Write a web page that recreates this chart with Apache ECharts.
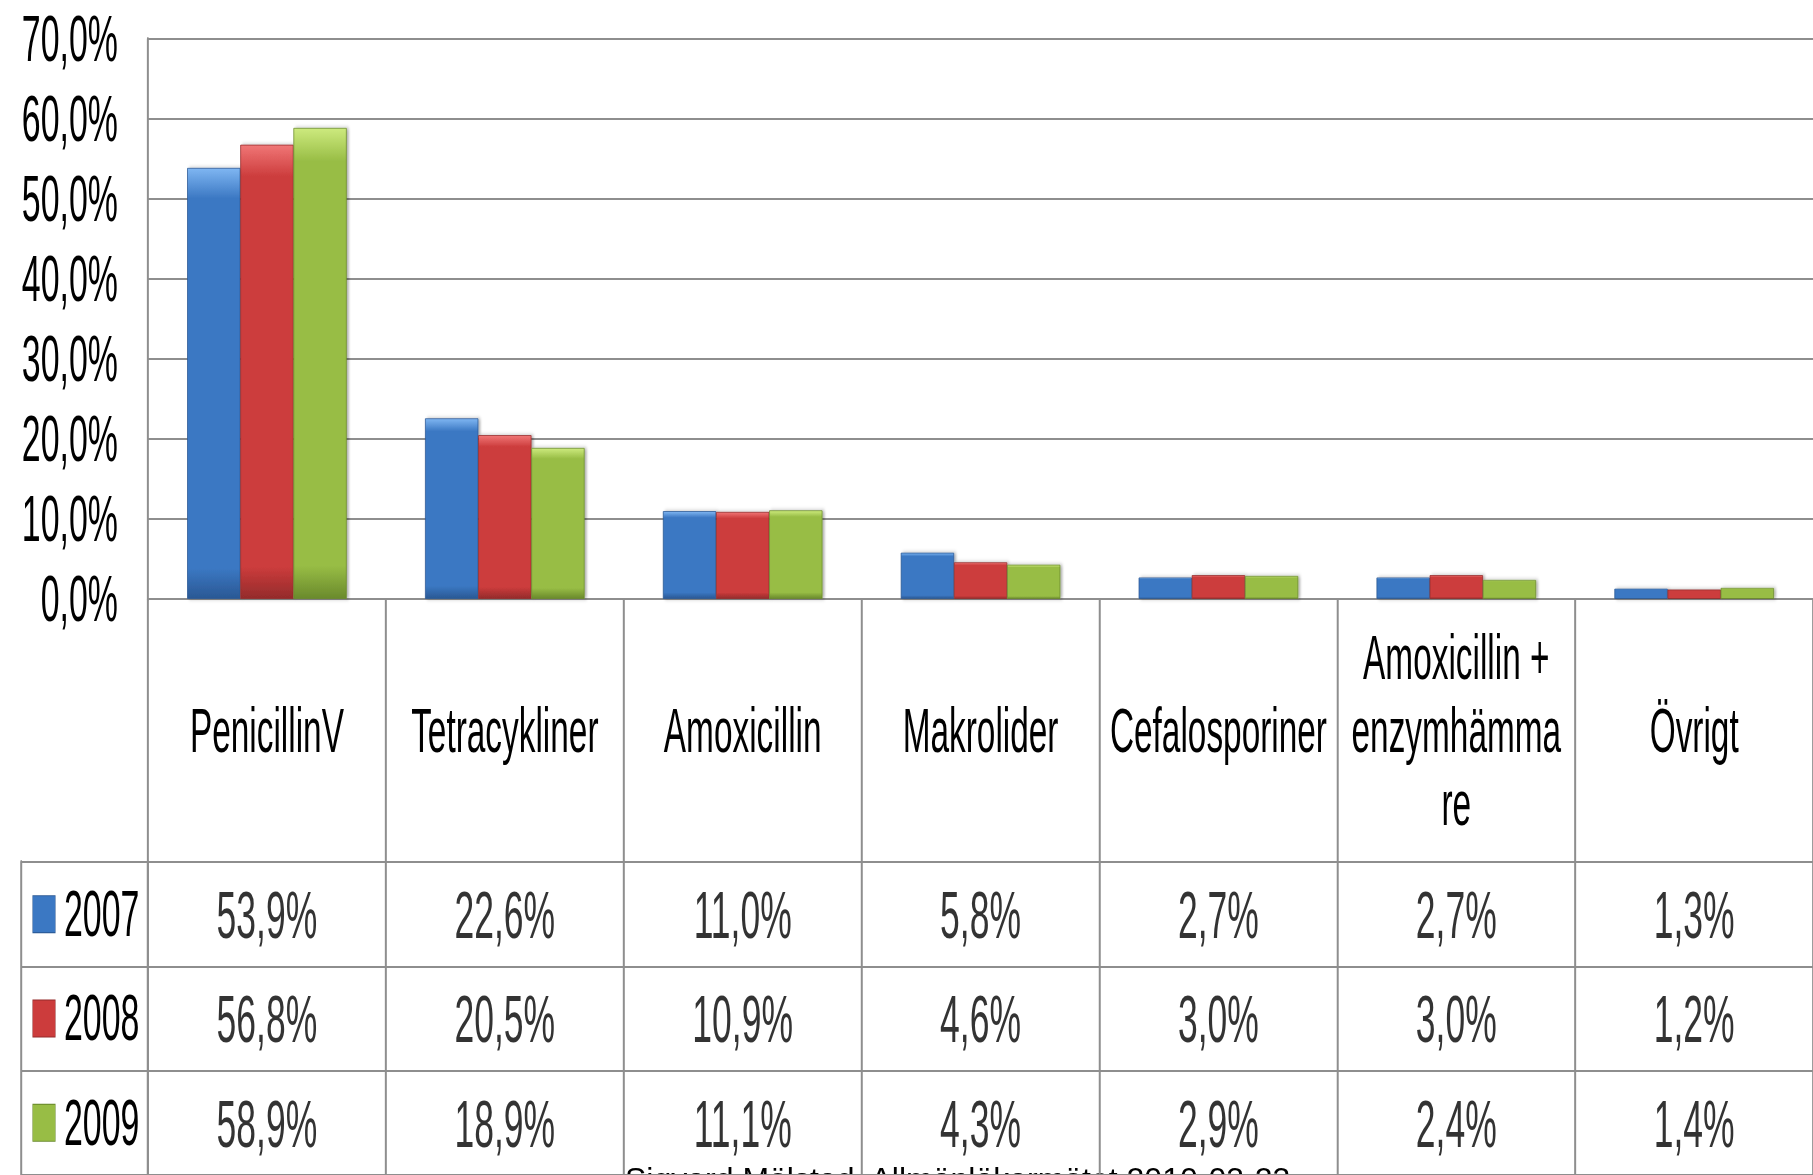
<!DOCTYPE html>
<html>
<head>
<meta charset="utf-8">
<title>Antibiotika 2007-2009</title>
<script src="https://cdn.jsdelivr.net/npm/echarts@6/dist/echarts.min.js"></script>
<style>
  html, body { margin: 0; padding: 0; background: #fff; overflow: hidden; width: 1813px; height: 1175px; }
  /* the original text is tall and narrow, so the whole chart is squeezed sideways */
  #chart { height: 1175px; transform-origin: 0 0; }
</style>
</head>
<body>
<div id="chart"></div>
<script>
// data
const categories = ['PenicillinV', 'Tetracykliner', 'Amoxicillin', 'Makrolider', 'Cefalosporiner', 'Amoxicillin +\nenzymhämma\nre', 'Övrigt'];
const years = ['2007', '2008', '2009'];
const values2007 = [53.9, 22.6, 11.0, 5.8, 2.7, 2.7, 1.3];
const values2008 = [56.8, 20.5, 10.9, 4.6, 3.0, 3.0, 1.2];
const values2009 = [58.9, 18.9, 11.1, 4.3, 2.9, 2.4, 1.4];
const yMin = 0;
const yMax = 70;
const yStep = 10;
const footer = 'Sigvard Mölstad, Allmänläkarmötet 2010-03-23';

// horizontal squeeze
const K = 0.53;
const sx = v => v / K;

const el = document.getElementById('chart');
el.style.width = sx(1813) + 'px';
el.style.transform = 'scaleX(' + K + ')';

// looks
const FONT = "'Liberation Sans', Arial, sans-serif";
const LINE = '#8e8e8e';
const hLine = { color: LINE, width: 2 };
const vLine = { color: LINE, width: sx(2) };
const yearColors = [
  { light: '#7fb6f2', main: '#3b78c3', dark: '#2a5894' },
  { light: '#f07676', main: '#cc3c3c', dark: '#942b2b' },
  { light: '#cdea7e', main: '#98bd45', dark: '#6a8a2c' }
];

const pct = v => v.toFixed(1).replace('.', ',') + '%';

const barFill = c => ({
  type: 'linear', x: 0, y: 0, x2: 0, y2: 1,
  colorStops: [
    { offset: 0, color: c.light },
    { offset: 0.07, color: c.main },
    { offset: 0.93, color: c.main },
    { offset: 1, color: c.dark }
  ]
});

const yearValues = [values2007, values2008, values2009];

// cells of the data table under the plot
const tableCells = [];
yearValues.forEach((vals, row) => {
  vals.forEach((v, col) => tableCells.push([col, row, v]));
});

const rich = { t: { fontSize: 64, fontFamily: FONT, color: '#000', padding: [0, 0, 0, sx(9)] } };
yearColors.forEach((c, i) => {
  rich['i' + i] = { width: sx(22), height: 36, backgroundColor: c.main, borderColor: c.dark, borderWidth: 1 };
});

const chart = echarts.init(el, null, { renderer: 'svg' });

chart.setOption({
  animation: false,
  backgroundColor: '#fff',
  grid: [
    { left: sx(148), top: 39, width: sx(1675), height: 560 },
    { left: sx(148), top: 862, width: sx(1675), height: 315 }
  ],
  xAxis: [
    {
      type: 'category',
      gridIndex: 0,
      data: categories,
      axisLine: { lineStyle: hLine },
      axisTick: { show: true, length: 263, lineStyle: vLine },
      axisLabel: {
        interval: 0, margin: 131, verticalAlign: 'middle',
        fontSize: 63, lineHeight: 73, fontFamily: FONT, color: '#000'
      }
    },
    {
      type: 'category',
      gridIndex: 1,
      position: 'top',
      data: categories,
      axisLine: { lineStyle: hLine },
      axisTick: { show: false },
      axisLabel: { show: false },
      splitLine: { show: true, lineStyle: vLine }
    }
  ],
  yAxis: [
    {
      type: 'value',
      gridIndex: 0,
      min: yMin, max: yMax, interval: yStep,
      axisLine: { show: true, lineStyle: vLine },
      axisTick: { show: false },
      splitLine: { lineStyle: hLine },
      axisLabel: { formatter: pct, fontSize: 64, fontFamily: FONT, color: '#000', margin: sx(30) }
    },
    {
      type: 'category',
      gridIndex: 1,
      inverse: true,
      data: years,
      axisLine: { show: true, lineStyle: vLine },
      axisTick: { show: true, length: sx(127), lineStyle: hLine },
      splitLine: { show: true, lineStyle: hLine },
      axisLabel: {
        align: 'left', margin: sx(115),
        formatter: (val, idx) => '{i' + idx + '|}{t|' + val + '}',
        rich: rich
      }
    },
    {
      // left border of the legend column
      type: 'category',
      gridIndex: 1,
      data: years,
      position: 'left',
      offset: sx(127),
      axisLine: { show: true, lineStyle: vLine },
      axisTick: { show: false },
      axisLabel: { show: false }
    }
  ],
  series: yearValues.map((vals, i) => ({
    name: years[i],
    type: 'bar',
    xAxisIndex: 0,
    yAxisIndex: 0,
    barGap: '0%',
    barCategoryGap: '33%',
    data: vals,
    itemStyle: {
      color: barFill(yearColors[i]),
      borderColor: yearColors[i].dark,
      borderWidth: 1,
      shadowColor: 'rgba(0,0,0,0.3)',
      shadowBlur: 4,
      shadowOffsetX: sx(2)
    }
  })).concat([{
    type: 'scatter',
    xAxisIndex: 1,
    yAxisIndex: 1,
    symbolSize: 1,
    itemStyle: { color: 'rgba(0,0,0,0)' },
    data: tableCells,
    label: {
      show: true,
      position: 'inside',
      formatter: p => pct(p.value[2]),
      fontSize: 67,
      fontFamily: FONT,
      color: '#000'
    }
  }]),
  graphic: [{
    // source line, drawn at normal width
    type: 'text',
    x: sx(625),
    y: 1163,
    scaleX: 1 / K,
    style: { text: footer, fontSize: 32, fontFamily: FONT, fill: '#000' }
  }]
});

window.addEventListener('resize', () => chart.resize());
</script>
</body>
</html>
